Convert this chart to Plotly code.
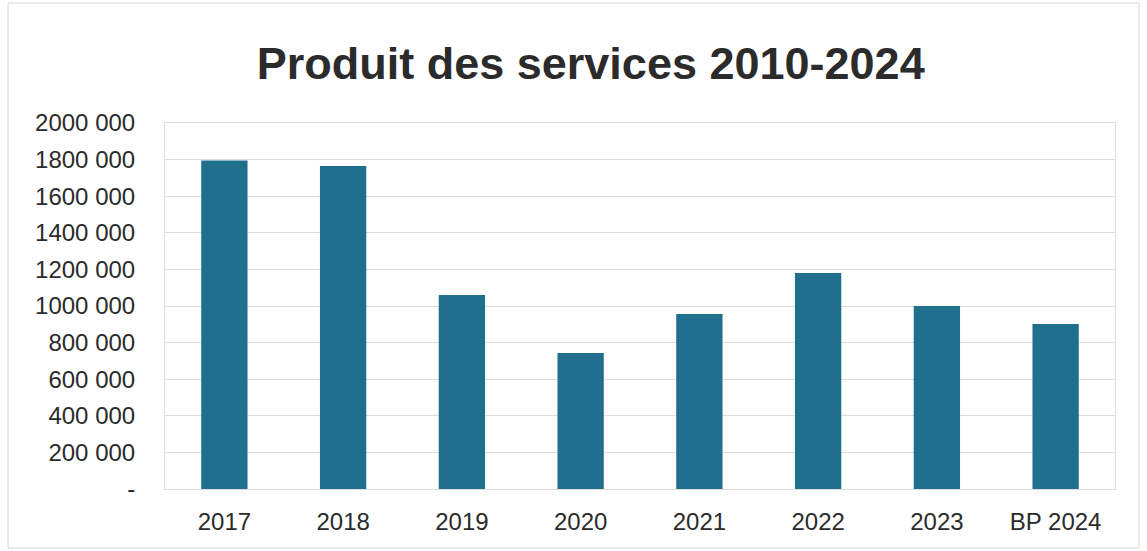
import plotly.graph_objects as go

# Produit des services par exercice (en euros)
categories = ["2017", "2018", "2019", "2020", "2021", "2022", "2023", "BP 2024"]
produit = [1795000, 1765000, 1060000, 743000, 956000, 1180000, 1000000, 902000]

# Graduations de l'axe vertical
tick_values = [0, 200000, 400000, 600000, 800000, 1000000, 1200000, 1400000,
               1600000, 1800000, 2000000]
tick_labels = ["-", "200 000", "400 000", "600 000", "800 000", "1000 000",
               "1200 000", "1400 000", "1600 000", "1800 000", "2000 000"]

BAR = "#206f8c"
GRID = "#dcdcdc"
TEXT = "#2b2b2b"
FONT = "Liberation Sans, Arial, sans-serif"

fig = go.Figure(
    go.Bar(
        x=categories,
        y=produit,
        marker=dict(color=BAR, line=dict(width=0)),
        hoverinfo="x+y",
    )
)

fig.update_layout(
    width=1147,
    height=551,
    paper_bgcolor="white",
    plot_bgcolor="white",
    margin=dict(l=165, r=32, t=123, b=62),
    bargap=0.61,
    showlegend=False,
    title=dict(
        text="<b>Produit des services 2010-2024</b>",
        x=0.515,
        xanchor="center",
        y=1 - 63 / 551,
        yanchor="middle",
        yref="container",
        font=dict(family=FONT, size=45, color=TEXT),
    ),
    font=dict(family=FONT, color=TEXT),
    shapes=[
        # cadre du graphique
        dict(
            type="rect", xref="paper", yref="paper",
            x0=-157 / 950, x1=974 / 950, y0=-59 / 366, y1=486 / 366,
            line=dict(color="#d6d6d6", width=1), layer="below",
        )
    ],
)

fig.update_xaxes(
    type="category",
    showgrid=False,
    showline=True,
    linecolor=GRID,
    linewidth=1,
    mirror=True,
    ticks="",
    tickfont=dict(family=FONT, size=24, color=TEXT),
    ticklabelstandoff=11,
)

fig.update_yaxes(
    range=[0, 2000000],
    tickmode="array",
    tickvals=tick_values,
    ticktext=tick_labels,
    showgrid=True,
    gridcolor=GRID,
    gridwidth=1,
    zeroline=False,
    showline=True,
    linecolor=GRID,
    mirror=True,
    ticks="",
    tickfont=dict(family=FONT, size=24, color=TEXT),
    ticklabelstandoff=24,
)

fig.write_html("out.html")
